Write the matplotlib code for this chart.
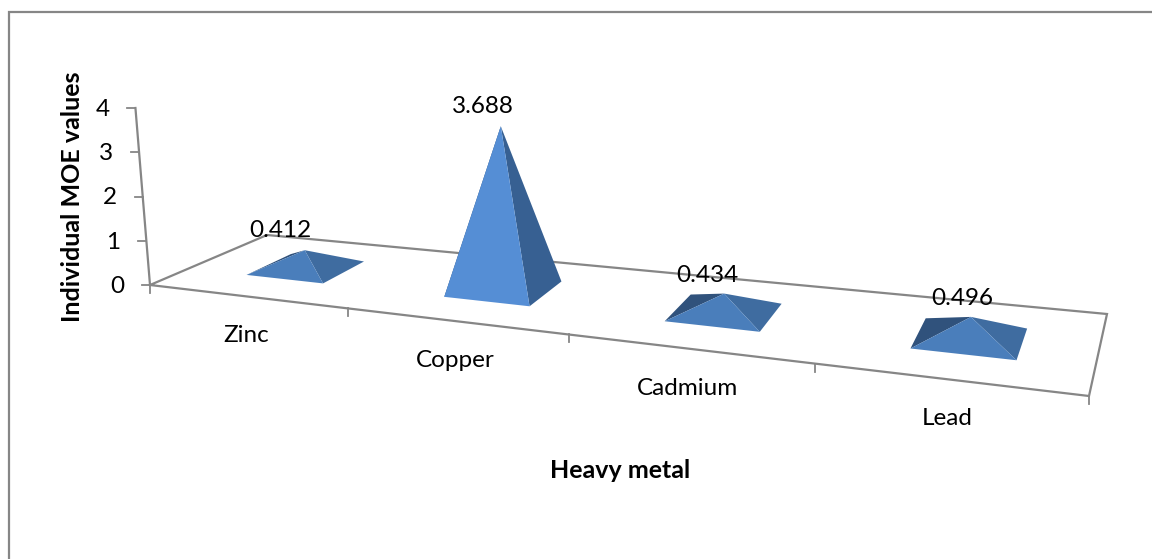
import numpy as np
import matplotlib
matplotlib.use("Agg")
import matplotlib.pyplot as plt
from matplotlib.patches import Polygon

plt.rcParams['font.family'] = ['Lato', 'DejaVu Sans']

metals = ["Zinc", "Copper", "Cadmium", "Lead"]
moe_values = [0.412, 3.688, 0.434, 0.496]
moe_labels = ["0.412", "3.688", "0.434", "0.496"]
y_ticks = [0, 1, 2, 3, 4]
y_title = "Individual MOE values"
x_title = "Heavy metal"

# face colours per pyramid
front_colors = ["#4a7ebb", "#558ed5", "#4a7ebb", "#4a7ebb"]
right_colors = ["#3f6ca0", "#376092", "#3f6ca0", "#3f6ca0"]
left_colors = ["#30527c", "#30527c", "#30527c", "#30527c"]

GREY = "#868686"
WIDTH, HEIGHT = 1152, 559

# floor corners of the 3D box on the canvas
FRONT_L, FRONT_R = np.array([150.0, 285.0]), np.array([1089.0, 396.0])
BACK_L, BACK_R = np.array([267.0, 235.0]), np.array([1107.0, 314.0])
STEP_RATIO = 1.115  # each category slot is this much wider than the previous one
PX_PER_UNIT = 44.25
VANISH_X, VANISH_H = 586, 5300


def project(u, d, value=0.0):
    t = (STEP_RATIO ** u - 1) / (STEP_RATIO ** len(metals) - 1)
    front = FRONT_L + (FRONT_R - FRONT_L) * t
    back = BACK_L + (BACK_R - BACK_L) * t
    x, y = front + (back - front) * d
    rise = value * PX_PER_UNIT
    # verticals lean towards a vanishing point high above the chart
    return x + (x - VANISH_X) / VANISH_H * rise, y - rise


fig = plt.figure(figsize=(WIDTH / 100, HEIGHT / 100), dpi=100)
ax = fig.add_axes([0, 0, 1, 1])
ax.set_xlim(0, WIDTH)
ax.set_ylim(HEIGHT, 0)
ax.axis("off")

# outer chart border, only top and left fall on the canvas
ax.plot([9, 9, WIDTH], [HEIGHT, 12, 12], color=GREY, lw=1.6, solid_joinstyle="miter")

# floor outline
n = len(metals)
corners = [project(0, 0), project(n, 0), project(n, 1), project(0, 1)]
xs, ys = zip(*(corners + corners[:1]))
ax.plot(xs, ys, color=GREY, lw=1.6, solid_joinstyle="miter")

# value axis with ticks
top = project(0, 0, y_ticks[-1])
ax.plot([corners[0][0], top[0]], [corners[0][1], top[1]], color=GREY, lw=1.6)
for t in y_ticks:
    x, y = project(0, 0, t)
    ax.plot([x - 8, x], [y, y], color=GREY, lw=1.3)
    ax.text(x - 26, y + 1.5, str(t), ha="right", va="center", fontsize=17.5, color="black")

# category ticks below the front edge
for i in range(n + 1):
    x, y = project(i, 0)
    ax.plot([x, x], [y, y + 8], color=GREY, lw=1.3)

HALF_U, HALF_D = 0.2, 0.2
CENTER_U, CENTER_D = 0.515, 0.53
label_offsets = [(-24, -20), (-18, -20), (-17, -18), (-9, -18)]

for i, (metal, value) in enumerate(zip(metals, moe_values)):
    uc = i + CENTER_U
    fl = project(uc - HALF_U, CENTER_D - HALF_D)
    fr = project(uc + HALF_U, CENTER_D - HALF_D)
    br = project(uc + HALF_U, CENTER_D + HALF_D)
    bl = project(uc - HALF_U, CENTER_D + HALF_D)
    apex = project(uc, CENTER_D, value)

    # back to front so the nearest face stays on top
    ax.add_patch(Polygon([fl, bl, apex], closed=True, fc=left_colors[i], ec="none", zorder=3))
    ax.add_patch(Polygon([fr, br, apex], closed=True, fc=right_colors[i], ec="none", zorder=3))
    ax.add_patch(Polygon([fl, fr, apex], closed=True, fc=front_colors[i], ec="none", zorder=3))

    dx, dy = label_offsets[i]
    ax.text(apex[0] + dx, apex[1] + dy, moe_labels[i], ha="center", va="center",
            fontsize=17.5, color="black", zorder=4)

    x, y = project(i + 0.5, 0)
    ax.text(x - 0.5, y + 39.5, metal, ha="center", va="center", fontsize=17.5, color="black")

ax.text(620, 471, x_title, ha="center", va="center", fontsize=18, fontweight="bold")
ax.text(73, 197, y_title, ha="center", va="center", rotation=90, fontsize=18, fontweight="bold")

fig.savefig("out.png", dpi=100, facecolor="white")
